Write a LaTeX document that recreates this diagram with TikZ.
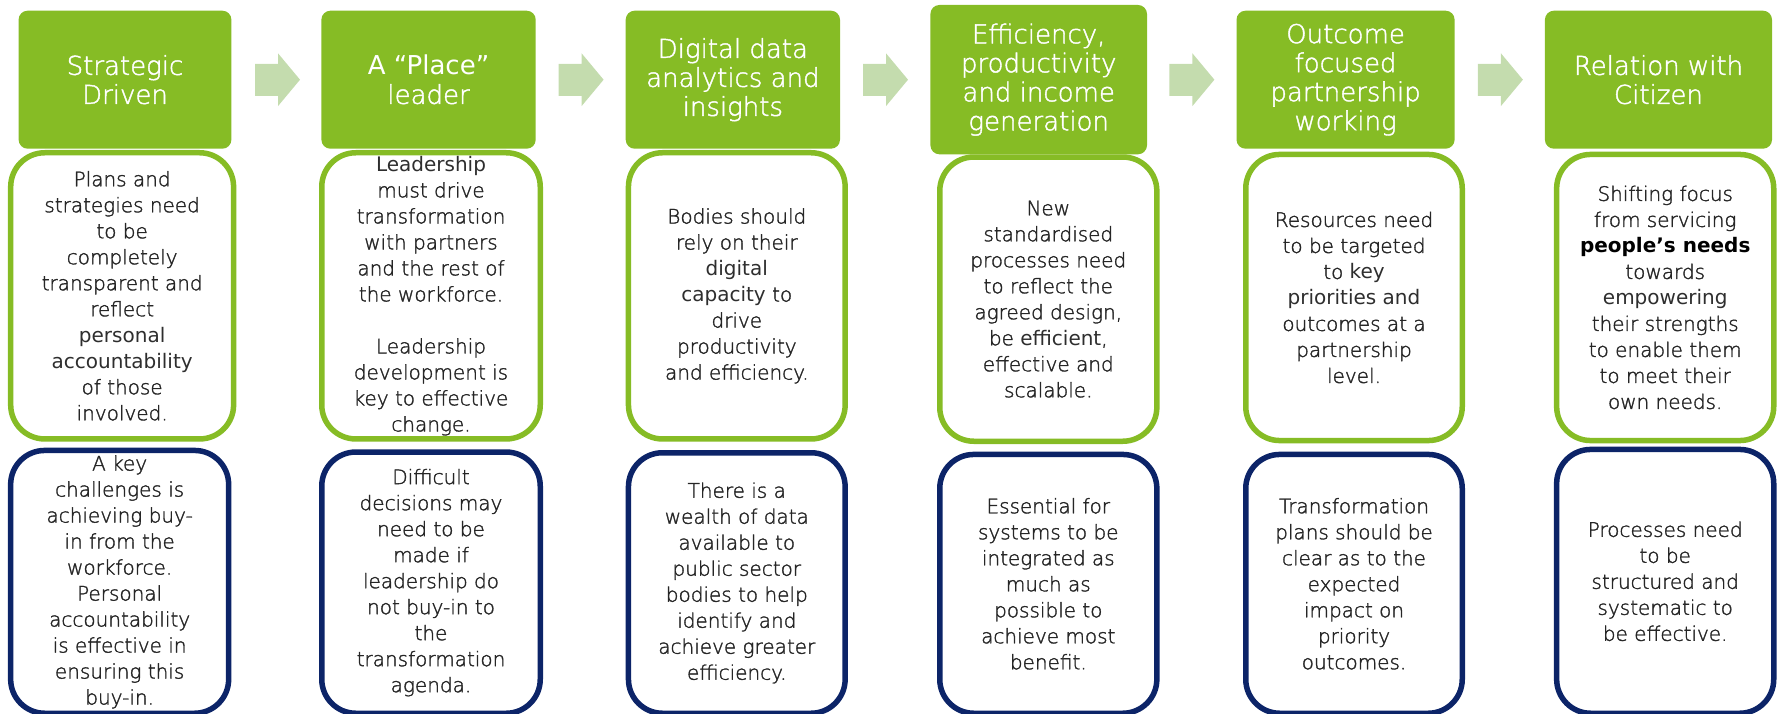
\documentclass[tikz,border=0pt]{standalone}
\usepackage{fontspec}
\setmainfont{DejaVuSans-ExtraLight.ttf}[BoldFont=DejaVuSans.ttf, UprightFeatures={FakeBold=1.6}]
\newfontfamily\heavyfont{DejaVuSans-Bold.ttf}
\definecolor{hdrgreen}{HTML}{86BC25}
\definecolor{navy}{HTML}{0C2468}
\definecolor{palegreen}{HTML}{C4DCAE}
\definecolor{bodytext}{HTML}{262626}
\definecolor{emphtext}{HTML}{2E2E2E}
\tikzset{
  hdr/.style={fill=hdrgreen, rounded corners=9pt, text=white, align=center,
    inner sep=0pt, font=\fontsize{26}{29}\selectfont},
  gbox/.style={draw=hdrgreen, line width=5.5pt, rounded corners=34pt, fill=white,
    text=bodytext, align=center, inner sep=0pt, font=\fontsize{20}{26}\selectfont},
  bbox/.style={gbox, draw=navy},
  barrow/.style={fill=palegreen},
}
\newcommand\emw[1]{{\color{emphtext}\bfseries #1}}
\newcommand\garrow[2]{%
  \path[barrow] (#1,64) -- ++(23,0) -- ++(0,-10.7) -- ++(22,26.4) -- ++(-22,26.4)
     -- ++(0,-10.1) -- ++(-23,0) -- cycle;
  \coordinate (#2) at (#1+22.5,80);}
\begin{document}
\begin{tikzpicture}[x=1pt,y=-1pt]
\useasboundingbox (0,0) rectangle (1781,714);
\clip (0,0) rectangle (1781,714);

% headers
\node[hdr, minimum width=212.8pt, minimum height=138pt] (h1) at (125,79.7) {Strategic\\Driven};
\node[hdr, minimum width=214.3pt, minimum height=138pt] (h2) at (428.55,79.7) {{\bfseries A “Place”}\\leader};
\node[hdr, minimum width=214.3pt, minimum height=138pt] (h3) at (732.85,79.7) {Digital data\\analytics and\\insights};
\node[hdr, minimum width=216.6pt, minimum height=149.3pt] (h4) at (1038.7,79.65) {Efficiency,\\productivity\\and income\\generation};
\node[hdr, minimum width=218.1pt, minimum height=138pt] (h5) at (1345.55,79.7) {Outcome\\focused\\partnership\\working};
\node[hdr, minimum width=227.1pt, minimum height=138pt] (h6) at (1658.45,79.7) {Relation with\\Citizen};

% arrows between headers
\garrow{255}{a1}
\garrow{558.6}{a2}
\garrow{863}{a3}
\garrow{1169.4}{a4}
\garrow{1477.9}{a5}

% green boxes
\node[gbox, minimum width=222.9pt, minimum height=286.2pt] (g1) at (122.15,295.85)
 {Plans and\\strategies need\\to be\\completely\\transparent and\\reflect\\\emw{personal}\\\emw{accountability}\\of those\\involved.};
\node[gbox, minimum width=218.5pt, minimum height=286.2pt] (g2) at (431,295.85)
 {\emw{Leadership}\\must drive\\transformation\\with partners\\and the rest of\\the workforce.\\[26pt]Leadership\\development is\\key to effective\\change.};
\node[gbox, minimum width=216.7pt, minimum height=286.2pt] (g3) at (736.8,295.85)
 {Bodies should\\rely on their\\\emw{digital}\\\emw{capacity} to\\drive\\productivity\\and efficiency.};
\node[gbox, minimum width=217.1pt, minimum height=284.2pt] (g4) at (1048.3,299.15)
 {New\\standardised\\processes need\\to reflect the\\agreed design,\\be \emw{efficient},\\effective and\\scalable.};
\node[gbox, minimum width=216.5pt, minimum height=286.1pt] (g5) at (1354,297.5)
 {Resources need\\to be targeted\\to \emw{key}\\\emw{priorities and}\\outcomes at a\\partnership\\level.};
\node[gbox, minimum width=217.1pt, minimum height=286.1pt] (g6) at (1665.2,297.5)
 {Shifting focus\\from servicing\\{\heavyfont\color{black}people’s needs}\\towards\\\emw{empowering}\\their strengths\\to enable them\\to meet their\\own needs.};

% blue boxes
\node[bbox, minimum width=218pt, minimum height=262.8pt] (b1) at (119.65,581.85)
 {A key\\challenges is\\achieving buy-\\in from the\\workforce.\\Personal\\accountability\\is effective in\\ensuring this\\buy-in.};
\node[bbox, minimum width=218.5pt, minimum height=261.2pt] (b2) at (431,582.65)
 {Difficult\\decisions may\\need to be\\made if\\leadership do\\not buy-in to\\the\\transformation\\agenda.};
\node[bbox, minimum width=216.7pt, minimum height=260.5pt] (b3) at (736.8,583)
 {There is a\\wealth of data\\available to\\public sector\\bodies to help\\identify and\\achieve greater\\efficiency.};
\node[bbox, minimum width=217.1pt, minimum height=258.8pt] (b4) at (1048.3,583.85)
 {Essential for\\systems to be\\integrated as\\much as\\possible to\\achieve most\\benefit.};
\node[bbox, minimum width=216.5pt, minimum height=258.8pt] (b5) at (1354,583.85)
 {Transformation\\plans should be\\clear as to the\\expected\\impact on\\priority\\outcomes.};
\node[bbox, minimum width=217.1pt, minimum height=263.8pt] (b6) at (1665.2,581.35)
 {Processes need\\to be\\structured and\\systematic to\\be effective.};
\end{tikzpicture}
\end{document}
